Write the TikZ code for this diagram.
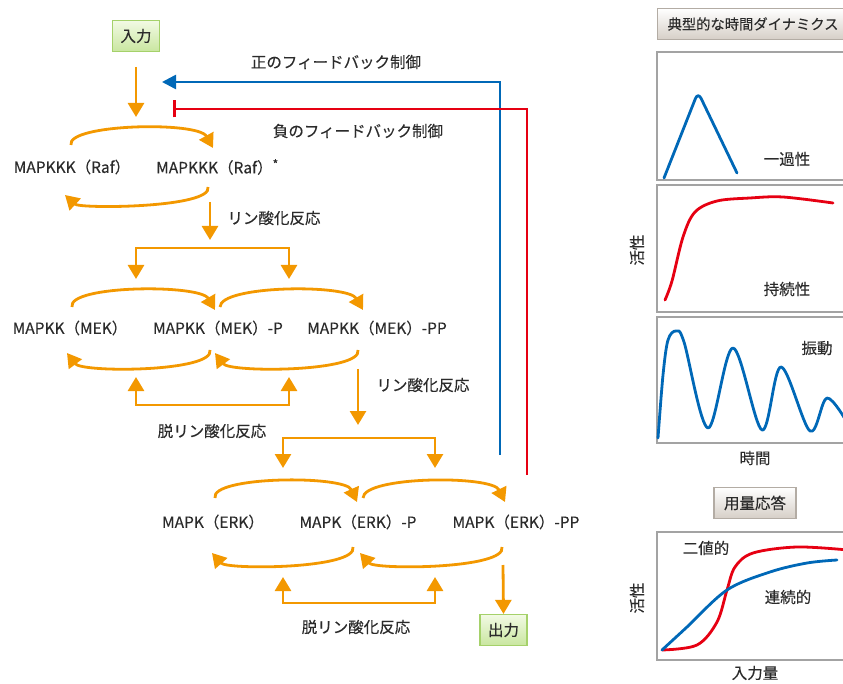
\documentclass[tikz,border=0pt]{standalone}
\usepackage{fontspec}
\setmainfont{Noto Sans CJK JP}[FakeBold=0.25]
\usetikzlibrary{arrows.meta,calc}
\definecolor{org}{HTML}{F39800}
\definecolor{fbblue}{HTML}{0068B7}
\definecolor{fbred}{HTML}{E60012}
\definecolor{pgray}{HTML}{A3A3A3}
\definecolor{txt}{HTML}{2B2B2B}
\definecolor{iogreen}{HTML}{A5D16A}
\definecolor{iotop}{HTML}{F2FAE4}
\definecolor{iobot}{HTML}{C9E6A0}
\definecolor{ttltop}{HTML}{FFFFFF}
\definecolor{ttlbot}{HTML}{D6CFC7}
\definecolor{ttlline}{HTML}{B3ACA4}
\begin{document}
\begin{tikzpicture}[x=1pt,y=-1pt,
  font=\fontsize{15.5}{18}\selectfont,
  lbl/.style={inner sep=0pt, text=txt},
  flow/.style={draw=org, line width=2.8pt, -{Triangle[width=16pt,length=14pt]}},
  fbpos/.style={draw=fbblue, line width=2.6pt, -{Triangle[width=14pt,length=14pt]}},
  fbneg/.style={draw=fbred, line width=2.6pt, -{Bar[width=17pt,line width=2.6pt]}},
  iobox/.style={draw=iogreen, line width=1.2pt, top color=iotop, bottom color=iobot, minimum width=47pt, minimum height=31pt, inner sep=0pt, text=txt},
  ttlbox/.style={draw=ttlline, line width=1.2pt, top color=ttltop, bottom color=ttlbot, minimum height=31pt, inner sep=0pt, text=txt},
  panel/.style={draw=pgray, line width=1.8pt},
  curve/.style={line width=2.8pt, line cap=round, line join=round}
]
\useasboundingbox (0,0) rectangle (843,684);

% ---------------- input / output ----------------
\node[iobox] (in) at (136,36) {入力};
\node[iobox] (out) at (503.5,630) {出力};
\coordinate (inS) at (136,67);
\coordinate (inT) at (136,117);
\draw[flow] (inS) -- (inT);

% ---------------- feedback ----------------
\coordinate (bS) at (500,455);
\coordinate (bT) at (162,82);
\coordinate (rS) at (527,475);
\coordinate (rT) at (173,109);
\draw[fbpos] (bS) |- (bT);
\draw[fbneg] (rS) |- (rT);
\node[lbl] (pos) at (336,62) {正のフィードバック制御};
\node[lbl] (neg) at (358,131) {負のフィードバック制御};

% ---------------- MAPKKK ----------------
\node[lbl] (raf) at (72,167) {MAPKKK（Raf）};
\node[lbl,anchor=west] (rafs) at (156,167) {MAPKKK（Raf）\raisebox{0.3em}{\fontsize{12}{12}\selectfont *}};
\draw[flow] (71,145) .. controls (66,124) and (198,121) .. (213,148);
\draw[flow] (208,187) .. controls (213,208) and (80,209) .. (65,195);
\coordinate (p1S) at (210,202);
\coordinate (p1T) at (210,240);
\draw[flow] (p1S) -- (p1T);
\node[lbl] (ph1) at (274,218) {リン酸化反応};

% ---------------- MAPKK ----------------
\draw[flow] (212,248) -| (136,279);
\draw[flow] (212,248) -| (289,279);
\node[lbl] (mek0) at (70,328) {MAPKK（MEK）};
\node[lbl] (mek1) at (218,328) {MAPKK（MEK）-P};
\node[lbl] (mek2) at (377,328) {MAPKK（MEK）-PP};
\draw[flow] (72,307) .. controls (67,285) and (200,284) .. (215,310);
\draw[flow] (220,307) .. controls (220,285) and (348,284) .. (363,310);
\draw[flow] (210,350) .. controls (215,372) and (82,373) .. (67,353);
\draw[flow] (358,350) .. controls (363,372) and (230,373) .. (215,353);
\draw[flow] (212,405) -| (136,377);
\draw[flow] (212,405) -| (289,377);
\node[lbl] (dp1) at (212,431) {脱リン酸化反応};
\coordinate (p2S) at (358,369);
\coordinate (p2T) at (358,425);
\draw[flow] (p2S) -- (p2T);
\node[lbl] (ph2) at (423,385) {リン酸化反応};

% ---------------- MAPK ----------------
\draw[flow] (359,438) -| (283,468);
\draw[flow] (359,438) -| (435,468);
\node[lbl] (erk0) at (213,522) {MAPK（ERK）};
\node[lbl] (erk1) at (358,522) {MAPK（ERK）-P};
\node[lbl] (erk2) at (516,522) {MAPK（ERK）-PP};
\draw[flow] (215,498) .. controls (210,476) and (345,475) .. (357,502);
\draw[flow] (363,498) .. controls (363,476) and (492,475) .. (505,502);
\draw[flow] (353,547) .. controls (358,569) and (227,570) .. (212,553);
\draw[flow] (502,547) .. controls (507,569) and (375,570) .. (360,553);
\draw[flow] (359,603) -| (283,577);
\draw[flow] (359,603) -| (435,577);
\node[lbl] (dp2) at (356,627) {脱リン酸化反応};
\coordinate (oS) at (503,565);
\draw[flow] (oS) -- (out.north);

% ---------------- right panels ----------------
\begin{scope}
\clip (600,0) rectangle (843,684);
\node[ttlbox, anchor=west, minimum width=200pt, text width=190pt, align=left] (ttl1) at (657,24) {\hspace*{5pt}\fontsize{14.3}{17}\selectfont 典型的な時間ダイナミクス};
\draw[panel] (657,52) rectangle (870,180);
\draw[panel] (657,185) rectangle (870,312);
\draw[panel] (657,317) rectangle (870,443);
\draw[panel] (657,532) rectangle (870,660);

\draw[curve, fbblue, rounded corners=7pt] (664,178) -- (698,92) -- (737,173);
\draw[curve, fbred] plot[smooth, tension=0.55] coordinates {(665,300) (672,281) (683,237) (695,212) (717,201) (750,198) (783,197) (833,203)};
\draw[curve, fbblue] plot[smooth, tension=0.55] coordinates {(658,438) (663,375) (668,340) (676,331) (684,342) (708,428) (733,348) (762,430) (781,367) (810,431) (827,398) (848,424)};
\draw[curve, fbred] plot[smooth, tension=0.55] coordinates {(662,650) (697,645) (717,622) (727,590) (735,567) (753,553) (797,547) (848,550)};
\draw[curve, fbblue] plot[smooth, tension=0.55] coordinates {(662,650) (687,627) (727,590) (770,572) (807,563) (837,560)};
\end{scope}

\node[lbl] (l1) at (787,159) {一過性};
\node[lbl] (l2) at (787,289) {持続性};
\node[lbl] (l3) at (817,348) {振動};
\node[lbl, rotate=90] (ya1) at (637,250) {活性};
\node[lbl] (xa1) at (755,458) {時間};
\node[ttlbox, minimum width=82pt] (ttl2) at (755,503) {用量応答};
\node[lbl] (l4) at (706,548) {二値的};
\node[lbl] (l5) at (788,597) {連続的};
\node[lbl, rotate=90] (ya2) at (637,598) {活性};
\node[lbl] (xa2) at (755,673) {入力量};
\end{tikzpicture}
\end{document}
